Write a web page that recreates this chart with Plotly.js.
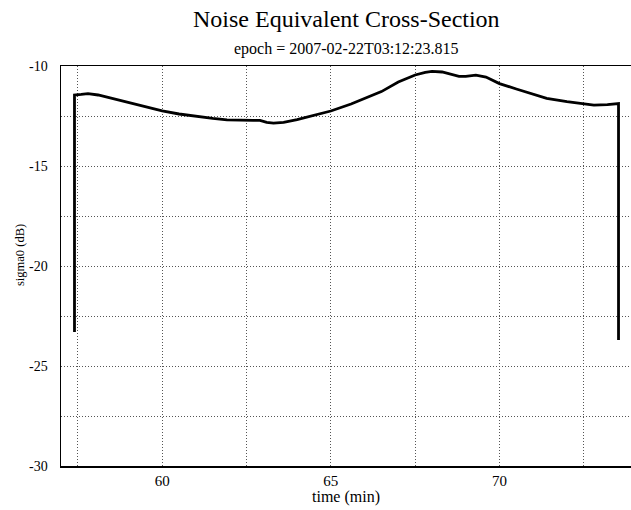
<!DOCTYPE html>
<html>
<head>
<meta charset="utf-8">
<script src="https://cdn.plot.ly/plotly-3.0.1.min.js"></script>
<style>html,body{margin:0;padding:0;background:#fff;}#chart{width:631px;height:510px;}</style>
</head>
<body>
<div id="chart"></div>
<script>
const timeMin = [57.40, 57.40, 57.6, 57.8, 58.1, 58.5, 59.0, 59.5, 60.0, 60.5, 61.0, 61.5, 61.92, 62.3, 62.7, 62.9, 63.1, 63.3, 63.6, 64.0, 64.5, 65.0, 65.6, 66.0, 66.5, 67.0, 67.5, 67.8, 68.0, 68.3, 68.6, 68.8, 69.0, 69.3, 69.6, 70.0, 70.5, 71.0, 71.4, 72.0, 72.5, 72.8, 73.2, 73.53, 73.53];
const sigma0 = [-23.3, -11.45, -11.42, -11.38, -11.45, -11.62, -11.85, -12.05, -12.24, -12.4, -12.52, -12.62, -12.69, -12.72, -12.72, -12.72, -12.82, -12.86, -12.82, -12.68, -12.48, -12.25, -11.9, -11.62, -11.28, -10.8, -10.45, -10.32, -10.27, -10.3, -10.45, -10.52, -10.52, -10.46, -10.55, -10.88, -11.15, -11.4, -11.62, -11.78, -11.88, -11.96, -11.93, -11.88, -23.7];
const xTicks = [60, 65, 70];
const yTicks = [-10, -15, -20, -25, -30];
const titleText = "Noise Equivalent Cross-Section";
const subtitleText = "epoch = 2007-02-22T03:12:23.815";
const xTitle = "time (min)";
const yTitle = "sigma0 (dB)";

const serif = "Liberation Serif, Times New Roman, serif";
const gcol = "#555";
const gdash = "1px,2px";

Plotly.newPlot("chart", [{
  x: timeMin, y: sigma0, type: "scatter", mode: "lines",
  line: {color: "#000", width: 2.8, shape: "linear"},
  hoverinfo: "skip"
}], {
  width: 631, height: 510,
  margin: {l: 61, r: 0, t: 66, b: 44},
  paper_bgcolor: "#fff", plot_bgcolor: "#fff",
  showlegend: false,
  font: {family: serif, color: "#000", size: 13},
  annotations: [
    {text: titleText, xref: "paper", yref: "paper", x: 0.5, y: 1.0, yshift: 47, xanchor: "center", yanchor: "middle", showarrow: false, font: {family: serif, size: 24, color: "#000"}},
    {text: subtitleText, xref: "paper", yref: "paper", x: 0.5, y: 1.0, yshift: 17, xanchor: "center", yanchor: "middle", showarrow: false, font: {family: serif, size: 16, color: "#000"}},
    {text: yTitle, xref: "paper", yref: "paper", x: 0, y: 0.5275, xshift: -41, xanchor: "center", yanchor: "middle", textangle: -90, showarrow: false, font: {family: serif, size: 12.5, color: "#000"}}
  ],
  xaxis: {
    range: [57, 73.9], tickvals: xTicks, ticktext: xTicks.map(String),
    showgrid: true, gridcolor: gcol, griddash: gdash, gridwidth: 1,
    minor: {tick0: 57.5, dtick: 2.5, showgrid: true, gridcolor: gcol, griddash: gdash, gridwidth: 1, ticks: ""},
    showline: true, linecolor: "#000", linewidth: 1.5, mirror: true,
    ticks: "", zeroline: false,
    tickfont: {family: serif, size: 15, color: "#000"},
    title: {text: xTitle, font: {family: serif, size: 16, color: "#000"}, standoff: 0}
  },
  yaxis: {
    range: [-30, -10], tickvals: yTicks, ticktext: yTicks.map(String),
    showgrid: true, gridcolor: gcol, griddash: gdash, gridwidth: 1,
    minor: {tick0: -10, dtick: 2.5, showgrid: true, gridcolor: gcol, griddash: gdash, gridwidth: 1, ticks: ""},
    showline: true, linecolor: "#000", linewidth: 1.5,
    ticks: "", ticklabelstandoff: 9, zeroline: false,
    tickfont: {family: serif, size: 14, color: "#000"}
  }
}, {displayModeBar: false, staticPlot: true});
</script>
</body>
</html>
